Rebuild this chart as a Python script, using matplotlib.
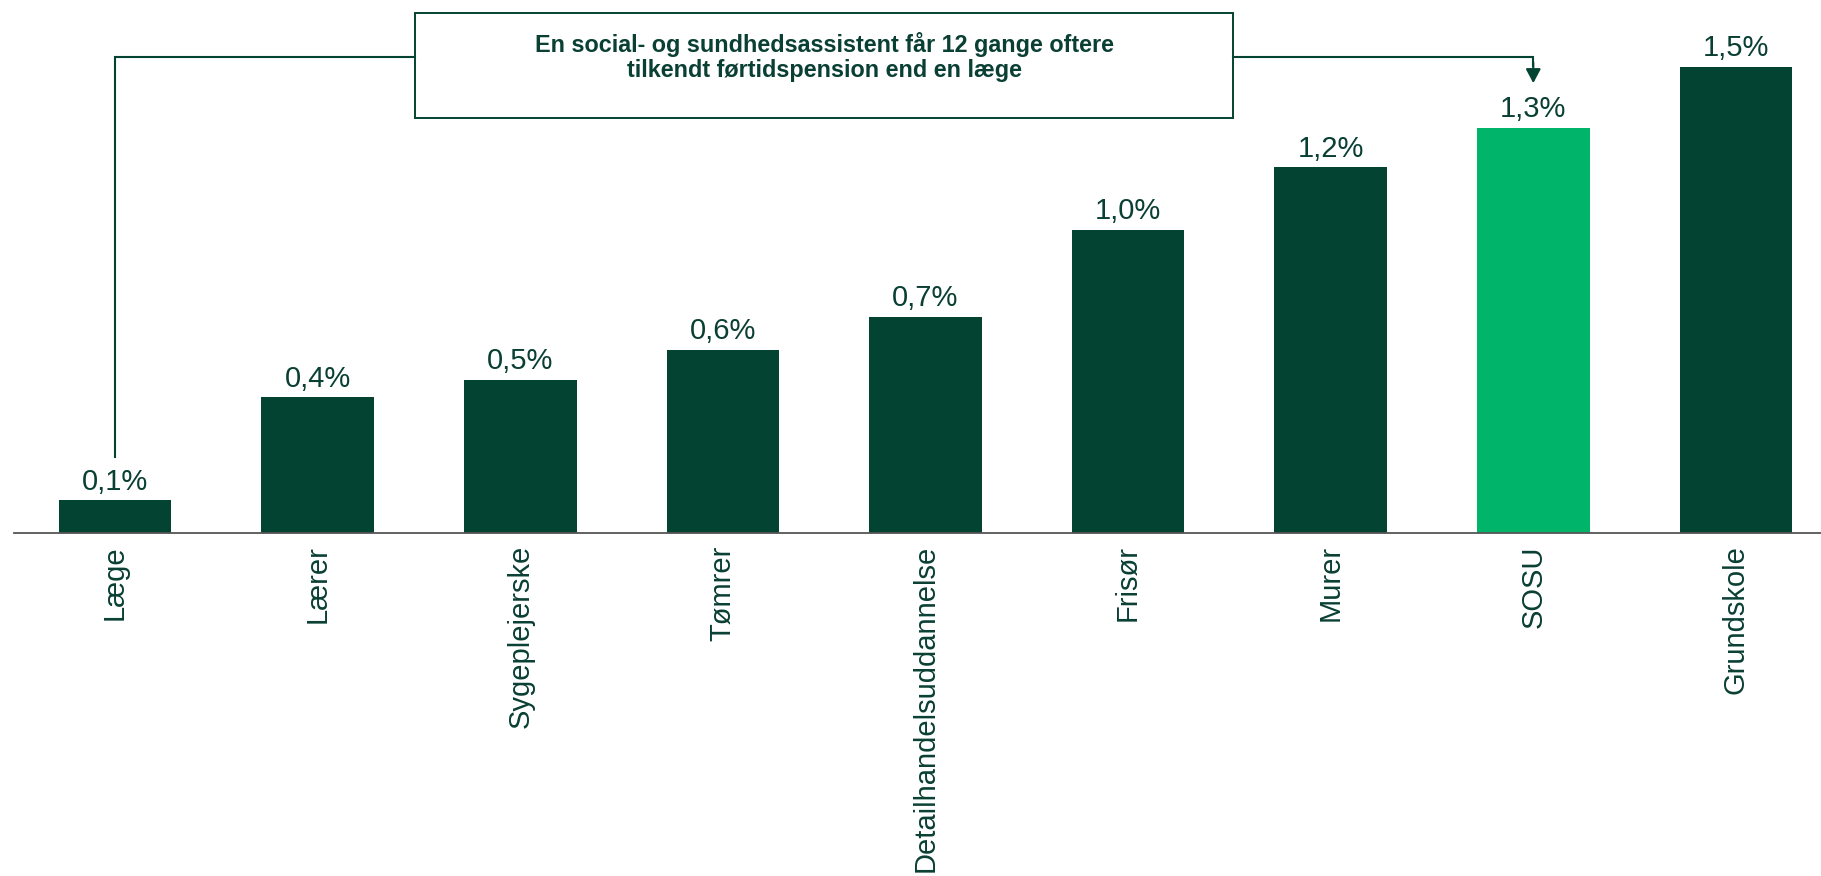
import matplotlib
matplotlib.use("Agg")
import matplotlib.pyplot as plt
from matplotlib.patches import Rectangle

categories = ["Læge", "Lærer", "Sygeplejerske", "Tømrer", "Detailhandelsuddannelse",
              "Frisør", "Murer", "SOSU", "Grundskole"]
values = [0.106, 0.438, 0.493, 0.591, 0.696, 0.976, 1.178, 1.304, 1.50]
highlight = "SOSU"
callout_text = "En social- og sundhedsassistent får 12 gange oftere\ntilkendt førtidspension end en læge"

DARK = "#034332"
BRIGHT = "#00B469"
TEXT = "#0A3F33"

plt.rcParams["font.family"] = ["Liberation Sans", "DejaVu Sans"]

fig = plt.figure(figsize=(18.21, 8.76), dpi=100)
# axes: x from 13.7 px to 1821 px; baseline at 533.3 px from top, ylim 0..1.6
ax = fig.add_axes([13.7 / 1821, (876 - 533.3) / 876, (1821 - 13.7) / 1821, 497.4 / 876])

x = list(range(len(categories)))
colors = [BRIGHT if c == highlight else DARK for c in categories]
ax.bar(x, values, width=0.556, color=colors, zorder=2)

for xi, v in zip(x, values):
    ax.annotate(f"{v:.1f}".replace(".", ",") + "%", (xi, v), xytext=(0, 7.6),
                textcoords="offset points", ha="center", va="baseline",
                fontsize=21, color=TEXT)

ax.set_xlim(-0.5, 8.42)
ax.set_ylim(0, 1.6)
ax.set_xticks(x)
ax.set_xticklabels(categories, rotation=90, fontsize=21, color=TEXT, va="top", ha="center")
ax.tick_params(axis="x", length=0, pad=8.6)
ax.set_yticks([])
for s in ["top", "right", "left"]:
    ax.spines[s].set_visible(False)
ax.spines["bottom"].set_color("#555555")
ax.spines["bottom"].set_linewidth(1.3)

# callout
i_lo = categories.index("Læge")
i_hi = categories.index(highlight)
y_line = 1.532
box_x0, box_x1 = 1.48, 5.52
box_y0, box_y1 = 1.336, 1.673
ax.add_patch(Rectangle((box_x0, box_y0), box_x1 - box_x0, box_y1 - box_y0,
                       fill=False, edgecolor=DARK, lw=1.4, clip_on=False, zorder=3))
ax.text((box_x0 + box_x1) / 2, y_line, callout_text, ha="center", va="center",
        fontsize=16.8, fontweight="bold", color=TEXT, linespacing=1.08, clip_on=False)
ax.plot([box_x0, x[i_lo], x[i_lo]], [y_line, y_line, values[i_lo] + 0.14],
        color=DARK, lw=1.5, clip_on=False, solid_joinstyle="miter")
ax.plot([box_x1, x[i_hi], x[i_hi]], [y_line, y_line, values[i_hi] + 0.2],
        color=DARK, lw=1.5, clip_on=False, solid_joinstyle="miter")
ax.annotate("", xy=(x[i_hi], values[i_hi] + 0.144), xytext=(x[i_hi], values[i_hi] + 0.21),
            arrowprops=dict(arrowstyle="-|>,head_length=0.85,head_width=0.45",
                            color=DARK, lw=1.5, shrinkA=0, shrinkB=0),
            annotation_clip=False)

fig.savefig("out.png", dpi=100)
